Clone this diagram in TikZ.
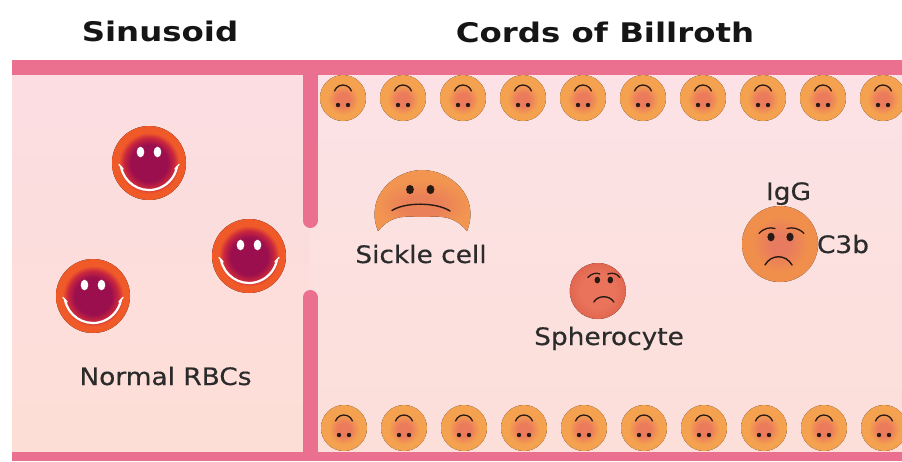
\documentclass[tikz,border=0pt]{standalone}
\usepackage{fontspec}
\setmainfont{DejaVu Sans}
\newfontfamily\lblfont[FakeStretch=1.1,FakeBold=0.4]{DejaVu Sans}
\newfontfamily\ttlfont[FakeStretch=1.2]{DejaVu Sans Bold}

\definecolor{wall}{HTML}{EB7090}
\definecolor{sinTop}{HTML}{FCDDE2}
\definecolor{sinBot}{HTML}{FDDED6}
\definecolor{cordTop}{HTML}{FCE2E6}
\definecolor{cordBot}{HTML}{FCDFD9}
\definecolor{rbcCore}{HTML}{9B0F4E}
\definecolor{rbcMid}{HTML}{C9263E}
\definecolor{rbcOut}{HTML}{F05A28}
\definecolor{cellOut}{HTML}{F4A24F}
\definecolor{cellIn}{HTML}{EC7B5C}
\definecolor{sickOut}{HTML}{F29550}
\definecolor{sickIn}{HTML}{EA8058}
\definecolor{sphOut}{HTML}{E2664F}
\definecolor{sphIn}{HTML}{E9745B}
\definecolor{iggOut}{HTML}{F08E4C}
\definecolor{iggIn}{HTML}{E87A60}
\definecolor{facecol}{HTML}{2A1A14}
\definecolor{txt}{HTML}{2B2B2B}
\definecolor{ttl}{HTML}{151515}

% radial shadings: the rim of a circle sits at 25bp
\pgfdeclareradialshading{rbcshade}{\pgfpoint{0bp}{0bp}}{%
  color(0bp)=(rbcCore); color(12.5bp)=(rbcCore); color(17bp)=(rbcMid);
  color(20.5bp)=(rbcOut); color(25bp)=(rbcOut); color(50bp)=(rbcOut)}
\pgfdeclareradialshading{cellshade}{\pgfpoint{0bp}{-2bp}}{%
  color(0bp)=(cellIn); color(7bp)=(cellIn); color(17bp)=(cellOut); color(50bp)=(cellOut)}
\pgfdeclareradialshading{sphshade}{\pgfpoint{0bp}{0bp}}{%
  color(0bp)=(sphIn); color(15bp)=(sphIn); color(25bp)=(sphOut); color(50bp)=(sphOut)}
\pgfdeclareradialshading{iggshade}{\pgfpoint{0bp}{0bp}}{%
  color(0bp)=(iggIn); color(6bp)=(iggIn); color(18bp)=(iggOut); color(50bp)=(iggOut)}
\pgfdeclareradialshading{sickshade}{\pgfpoint{0bp}{-5bp}}{%
  color(0bp)=(sickIn); color(8bp)=(sickIn); color(20bp)=(sickOut); color(50bp)=(sickOut)}

\tikzset{
  ttlstyle/.style={font=\ttlfont\fontsize{27}{32}\selectfont, text=ttl, anchor=base, inner sep=0pt},
  lblstyle/.style={font=\lblfont\fontsize{24}{29}\selectfont, text=txt, anchor=base, inner sep=0pt},
  featureline/.style={draw=facecol, line width=1.5pt, line cap=round},
  % healthy red cell with a white smile
  rbc/.pic={
    \fill[shading=rbcshade] (0,0) circle (37);
    \fill[white] (-8.5,-11) ellipse (3.8 and 5.3) (8.5,-11) ellipse (3.8 and 5.3);
    \draw[white, line width=2.2pt, line cap=round]
      (0,-1.5) ++(169:28.5) arc[start angle=169, end angle=11, radius=28.5];
    \draw[white, line width=1.4pt, line cap=round] (-30,1.5) -- (-26,6);
    \draw[white, line width=1.4pt, line cap=round] (30,1.5) -- (26,6);
  },
  % small cell of the cords, face upside down
  cordcell/.pic={
    \fill[shading=cellshade] (0,0) circle (23);
    \draw[featureline, line width=1.3pt] (0,-4) ++(200:9) arc[start angle=200, end angle=340, radius=9];
    \fill[facecol] (-5,7) circle (2.2) (5,7) circle (2.2);
  },
  spherocyte/.pic={
    \fill[shading=sphshade] (0,0) circle (28);
    \fill[facecol] (-0.5,-11) ellipse (2.8 and 3.4) (12.5,-11) ellipse (2.8 and 3.4);
    \draw[featureline, line width=1.3pt] (-10,-13.5) .. controls (-6,-18) and (-1,-18.5) .. (2,-17);
    \draw[featureline, line width=1.3pt] (10,-17) .. controls (14,-18.5) and (19,-18) .. (22,-13.5);
    \draw[featureline, line width=1.4pt] (-4,11) .. controls (0,4) and (12,4) .. (16,11);
  },
  iggcell/.pic={
    \fill[shading=iggshade] (0,0) circle (38);
    \fill[facecol] (-9,-7) ellipse (3.6 and 4.3) (10,-7) ellipse (3.6 and 4.3);
    \draw[featureline, line width=1.3pt] (-21,-10.5) .. controls (-16,-16) and (-10,-17) .. (-5,-15.5);
    \draw[featureline, line width=1.3pt] (7,-15.5) .. controls (12,-17) and (19,-16) .. (24,-10.5);
    \draw[featureline, line width=1.4pt] (-15,21) .. controls (-9,10) and (6,10) .. (12,21);
  }
}

\begin{document}
\begin{tikzpicture}[x=1pt, y=-1pt]
  \useasboundingbox (0,0) rectangle (902,461);
  \clip (0,0) rectangle (902,461);

  % compartments
  \fill[top color=sinTop, bottom color=sinBot] (12,75) rectangle (310,452);
  \fill[top color=cordTop, bottom color=cordBot] (310,75) rectangle (902,452);

  % walls
  \fill[wall] (12,60) rectangle (902,75);
  \fill[wall] (12,452) rectangle (902,461);
  \draw[wall, line width=15pt, line cap=round] (310,68) -- (310,220.5);
  \draw[wall, line width=15pt, line cap=round] (310,297.5) -- (310,452);

  % titles
  \node[ttlstyle] (tsin) at (160,41.5) {Sinusoid};
  \node[ttlstyle] (tcord) at (605,42.5) {Cords of Billroth};

  % normal red cells in the sinusoid
  \pic at (149,163) {rbc};
  \pic at (249,256) {rbc};
  \pic at (93,296) {rbc};
  \node[lblstyle] (lnorm) at (165.5,385) {Normal RBCs};

  % rows of cells lining the cords
  \foreach \i in {0,...,9} {
    \pic at (343+60*\i,98) {cordcell};
    \pic at (344+60*\i,428) {cordcell};
  }

  % sickle cell
  \fill[shading=sickshade] (378,231)
    .. controls (364,196) and (395,170) .. (422,170)
    .. controls (450,170) and (481,196) .. (467,231)
    .. controls (452,213) and (436,217) .. (422,217)
    .. controls (408,217) and (393,213) .. (378,231) -- cycle;
  \fill[facecol] (410,189.5) ellipse (3.9 and 4.6) (430.5,189.5) ellipse (3.9 and 4.6);
  \draw[featureline, line width=1.4pt] (392,210.5) .. controls (405,202) and (436,202) .. (450,211);
  \node[lblstyle] (lsick) at (421,263) {Sickle cell};

  % spherocyte
  \pic at (597.8,291) {spherocyte};
  \node[lblstyle] (lsph) at (609,345) {Spherocyte};

  % antibody / complement coated cell
  \pic at (780,244) {iggcell};
  \node[lblstyle] (ligg) at (788.5,200) {IgG};
  \node[lblstyle] (lc3b) at (843,253) {C3b};
\end{tikzpicture}
\end{document}
